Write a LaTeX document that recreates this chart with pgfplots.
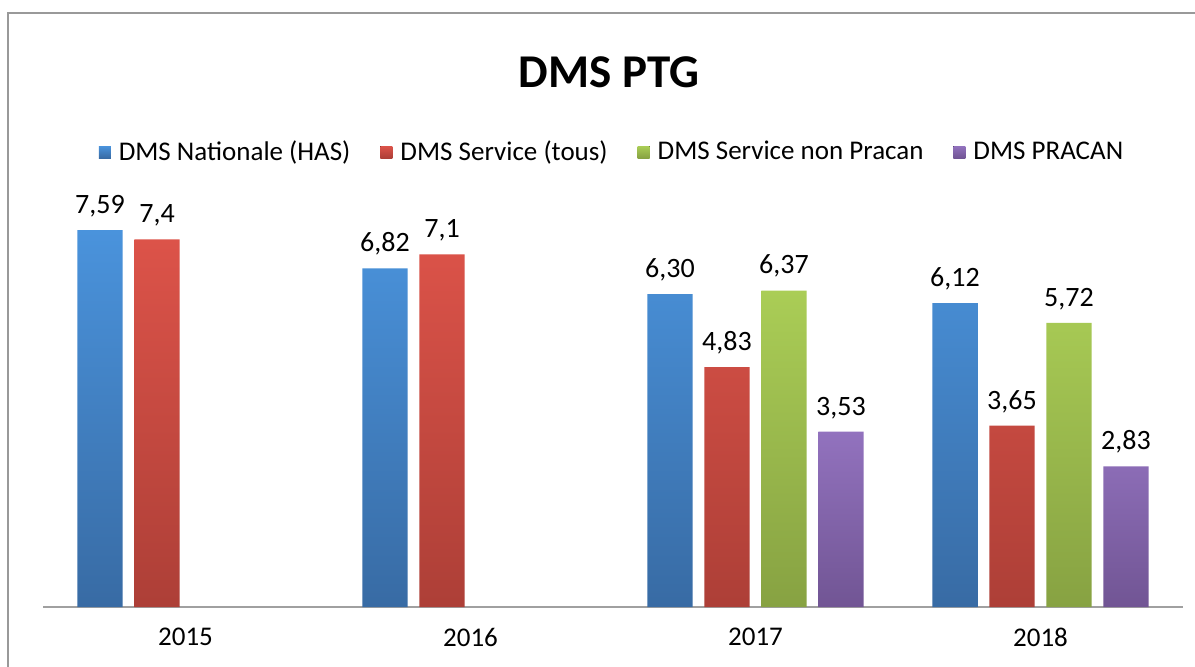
\documentclass[border=0pt]{standalone}
\usepackage{pgfplots}
\pgfplotsset{compat=1.18}
\usepackage{pgfplotstable}
\usepackage{fontspec}
\setmainfont{Carlito}

\definecolor{bluetop}{HTML}{4A93DC}
\definecolor{bluebot}{HTML}{386BA4}
\definecolor{redtop}{HTML}{DC5349}
\definecolor{redbot}{HTML}{AD3F37}
\definecolor{greentop}{HTML}{AACD56}
\definecolor{greenbot}{HTML}{87A242}
\definecolor{purpletop}{HTML}{9272BE}
\definecolor{purplebot}{HTML}{715594}
\definecolor{framegray}{HTML}{999999}
\definecolor{axisgray}{HTML}{A0A0A0}

\pgfplotstableread{
x y lab
0 7.59 7,59
1 6.82 6,82
2 6.30 6,30
3 6.12 6,12
}\nat
\pgfplotstableread{
x y lab
0 7.40 7,4
1 7.10 7,1
2 4.83 4,83
3 3.65 3,65
}\serv
\pgfplotstableread{
x y lab
2 6.37 6,37
3 5.72 5,72
}\nonp
\pgfplotstableread{
x y lab
2 3.53 3,53
3 2.83 2,83
}\prac

\begin{document}
\begin{tikzpicture}
\useasboundingbox (0,0) rectangle (597.5pt,333pt);
\fill[white] (0,0) rectangle (597.5pt,333pt);
\draw[draw=framegray, line width=1pt] (4pt,-5pt) -- (4pt,326.5pt) -- (610pt,326.5pt);
\node[font=\fontsize{23.5}{27}\selectfont\bfseries] at (304.5pt,297pt) {DMS PTG};
\begin{axis}[
  at={(21.5pt,29.5pt)}, anchor=south west,
  scale only axis, width=570pt, height=198.67pt,
  xmin=-0.5, xmax=3.5, ymin=0, ymax=8,
  ybar, bar width=0.158,
  axis x line*=bottom, axis y line=none,
  x axis line style={draw=axisgray, line width=1pt, -},
  xtick={0,1,2,3}, xticklabels={2015,2016,2017,2018},
  major tick length=0pt,
  xticklabel style={font=\fontsize{13.5}{16}\selectfont, yshift=-7pt},
  ytick=\empty,
  point meta=explicit symbolic,
  nodes near coords={\pgfplotspointmeta},
  every node near coord/.append style={font=\fontsize{14}{16}\selectfont, yshift=3pt, text=black},
  legend columns=4,
  legend style={draw=none, fill=none, at={(0.5,1.145)}, anchor=center,
    font=\fontsize{13.5}{16}\selectfont,
    /tikz/every even column/.append style={column sep=13pt}},
  legend image code/.code={\fill[#1] (0pt,-3pt) rectangle (6pt,3pt); \path (8pt,0pt);},
  clip=false,
]
\addplot[draw=none, top color=bluetop, bottom color=bluebot, bar shift=-0.3] table[x=x,y=y,meta=lab]{\nat};
\addplot[draw=none, top color=redtop, bottom color=redbot, bar shift=-0.1] table[x=x,y=y,meta=lab]{\serv};
\addplot[draw=none, top color=greentop, bottom color=greenbot, bar shift=0.1] table[x=x,y=y,meta=lab]{\nonp};
\addplot[draw=none, top color=purpletop, bottom color=purplebot, bar shift=0.3] table[x=x,y=y,meta=lab]{\prac};
\legend{DMS Nationale (HAS), DMS Service (tous), DMS Service non Pracan, DMS PRACAN}
\end{axis}
\end{tikzpicture}
\end{document}
